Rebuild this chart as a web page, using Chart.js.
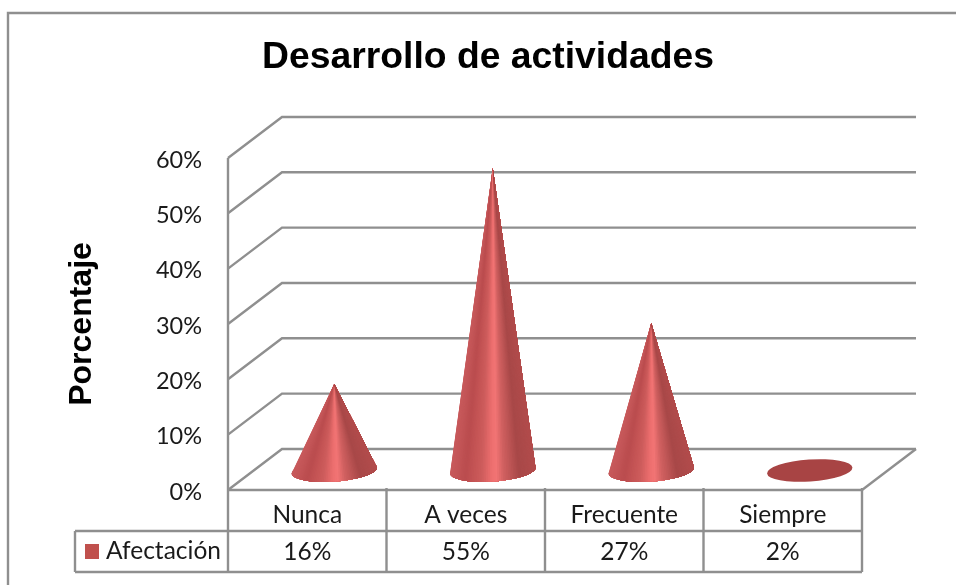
<!DOCTYPE html>
<html>
<head>
<meta charset="utf-8">
<title>Desarrollo de actividades</title>
<script src="https://cdn.jsdelivr.net/npm/chart.js@4"></script>
<style>
body { margin: 0; background: #fff; }
canvas { display: block; }
</style>
</head>
<body>
<canvas id="chart" width="956" height="585"></canvas>
<script>
var categories = ['Nunca', 'A veces', 'Frecuente', 'Siempre'];
var afectacion = [16, 55, 27, 2];
var yTicks = [0, 10, 20, 30, 40, 50, 60];
var seriesName = 'Afectación';

var lineColor = '#8f8f8f';
var depthX = 54, depthY = 41;

// colour across the cone, 0 = left edge, 1 = right edge
var shade = [
    [0, [200, 90, 92]], [0.17, [186, 76, 78]], [0.36, [206, 92, 92]], [0.47, [236, 110, 110]],
    [0.53, [242, 116, 116]], [0.62, [208, 96, 96]], [0.8, [168, 72, 72]], [1, [178, 76, 76]]
];

function shadeAt(s) {
    for (var i = 1; i < shade.length; i++) {
        if (s <= shade[i][0]) {
            var a = shade[i - 1], b = shade[i];
            var k = (s - a[0]) / (b[0] - a[0]);
            return 'rgb(' + [0, 1, 2].map(function(c) {
                return Math.round(a[1][c] + (b[1][c] - a[1][c]) * k);
            }).join(',') + ')';
        }
    }
    return 'rgb(178,76,76)';
}

function line(ctx, x1, y1, x2, y2) {
    ctx.beginPath();
    ctx.moveTo(x1, y1);
    ctx.lineTo(x2, y2);
    ctx.stroke();
}

var wallsPlugin = {
    id: 'walls',
    beforeDatasetsDraw: function(chart) {
        var ctx = chart.ctx, area = chart.chartArea, y = chart.scales.y;
        ctx.save();
        ctx.strokeStyle = lineColor;
        ctx.lineWidth = 2.4;
        // outer frame, open on the right and at the bottom
        ctx.beginPath();
        ctx.moveTo(8, 585);
        ctx.lineTo(8, 13);
        ctx.lineTo(956, 13);
        ctx.stroke();
        yTicks.forEach(function(t) {
            var py = y.getPixelForValue(t);
            ctx.beginPath();
            ctx.moveTo(area.left, py);
            ctx.lineTo(area.left + depthX, py - depthY);
            ctx.lineTo(area.right + depthX, py - depthY);
            ctx.stroke();
        });
        // right edge of the floor
        line(ctx, area.right, y.getPixelForValue(0), area.right + depthX, y.getPixelForValue(0) - depthY);
        ctx.restore();
    }
};

var conesPlugin = {
    id: 'cones',
    afterDatasetsDraw: function(chart) {
        var ctx = chart.ctx;
        chart.getDatasetMeta(0).data.forEach(function(bar) {
            var cx = bar.x + depthX / 2;
            var cy = bar.base - depthY / 2 + 1;
            var apexY = bar.y - depthY / 2 + 3;
            var rx = bar.width / 2, ry = 11;
            var tilt = -4 * Math.PI / 180;

            function rim(t) {
                return [
                    cx + rx * Math.cos(t) * Math.cos(tilt) - ry * Math.sin(t) * Math.sin(tilt),
                    cy + rx * Math.cos(t) * Math.sin(tilt) + ry * Math.sin(t) * Math.cos(tilt)
                ];
            }

            ctx.save();
            // base of the cone
            ctx.fillStyle = '#a84444';
            ctx.beginPath();
            ctx.ellipse(cx, cy, rx, ry, tilt, 0, Math.PI * 2);
            ctx.fill();

            // cone is only visible once the tip clears the base
            if (apexY < cy - ry) {
                var n = 70;
                // each slice covers everything to its right, so no seams show between slices
                for (var i = 0; i < n; i++) {
                    var first = rim(Math.PI - Math.PI * i / n);
                    ctx.fillStyle = shadeAt((first[0] - (cx - rx)) / (2 * rx));
                    ctx.beginPath();
                    ctx.moveTo(cx, apexY);
                    ctx.lineTo(first[0], first[1]);
                    for (var j = i + 1; j <= n; j++) {
                        var p = rim(Math.PI - Math.PI * j / n);
                        ctx.lineTo(p[0], p[1]);
                    }
                    ctx.closePath();
                    ctx.fill();
                }
            }
            ctx.restore();
        });
    }
};

var tablePlugin = {
    id: 'dataTable',
    afterDraw: function(chart) {
        var ctx = chart.ctx, area = chart.chartArea, x = chart.scales.x;
        var rowTop = area.bottom, rowMid = rowTop + 41, rowEnd = rowTop + 82;
        var tableLeft = 75;
        ctx.save();
        ctx.strokeStyle = lineColor;
        ctx.lineWidth = 2.4;
        line(ctx, area.left, rowTop, area.right, rowTop);
        line(ctx, tableLeft, rowMid, area.right, rowMid);
        line(ctx, tableLeft, rowEnd, area.right, rowEnd);
        line(ctx, tableLeft, rowMid, tableLeft, rowEnd);
        line(ctx, area.left, area.top, area.left, rowEnd);
        categories.forEach(function(c, i) {
            var right = x.getPixelForValue(i) + (area.right - area.left) / categories.length / 2;
            line(ctx, right, rowTop - 2, right, rowEnd);
        });
        // legend key and series name in the table's first column
        ctx.fillStyle = '#c0504d';
        ctx.fillRect(85, rowMid + 13, 14, 15);
        ctx.fillStyle = '#1a1a1a';
        ctx.font = '24.5px Lato';
        ctx.textAlign = 'left';
        ctx.textBaseline = 'middle';
        ctx.fillText(seriesName, 106, rowMid + 20);
        ctx.restore();
    }
};

new Chart(document.getElementById('chart'), {
    type: 'bar',
    data: {
        labels: categories,
        datasets: [{
            label: seriesName,
            data: afectacion,
            backgroundColor: 'rgba(0,0,0,0)',
            barPercentage: 0.54,
            categoryPercentage: 1
        }]
    },
    options: {
        responsive: false,
        animation: false,
        layout: { padding: { left: 20, right: 0, top: 0, bottom: 0 } },
        plugins: {
            legend: { display: false },
            tooltip: { enabled: false },
            title: {
                display: true,
                text: 'Desarrollo de actividades',
                color: '#000',
                font: { family: 'Liberation Sans', size: 37.3, weight: 'bold', lineHeight: 1.2 },
                padding: { top: 35, bottom: 78.2 }
            }
        },
        scales: {
            x: {
                grid: { display: false },
                border: { display: false },
                afterFit: function(scale) { scale.height = 95; },
                ticks: {
                    color: '#1a1a1a',
                    maxRotation: 0,
                    padding: -1,
                    font: { family: 'Lato', size: 24.5, lineHeight: '37px' },
                    callback: function(value, i) {
                        return [categories[i], afectacion[i] + '%'];
                    }
                }
            },
            y: {
                min: 0,
                max: 60,
                afterFit: function(scale) { scale.width = 208; },
                grid: { display: false },
                border: { display: false },
                title: {
                    display: true,
                    text: 'Porcentaje',
                    color: '#000',
                    font: { family: 'Liberation Sans', size: 32, weight: 'bold', lineHeight: 1.2 },
                    padding: { top: 43, bottom: 0 }
                },
                ticks: {
                    color: '#1a1a1a',
                    stepSize: 10,
                    padding: 18,
                    labelOffset: 2,
                    font: { family: 'Lato', size: 23.5 },
                    callback: function(value) { return value + '%'; }
                }
            },
            // empty axis keeps the plot clear of the right side while the title centres on the full width
            spacer: {
                type: 'linear',
                position: 'right',
                afterFit: function(scale) { scale.width = 94; },
                grid: { display: false },
                border: { display: false },
                ticks: { display: false }
            }
        }
    },
    plugins: [wallsPlugin, conesPlugin, tablePlugin]
});
</script>
</body>
</html>
